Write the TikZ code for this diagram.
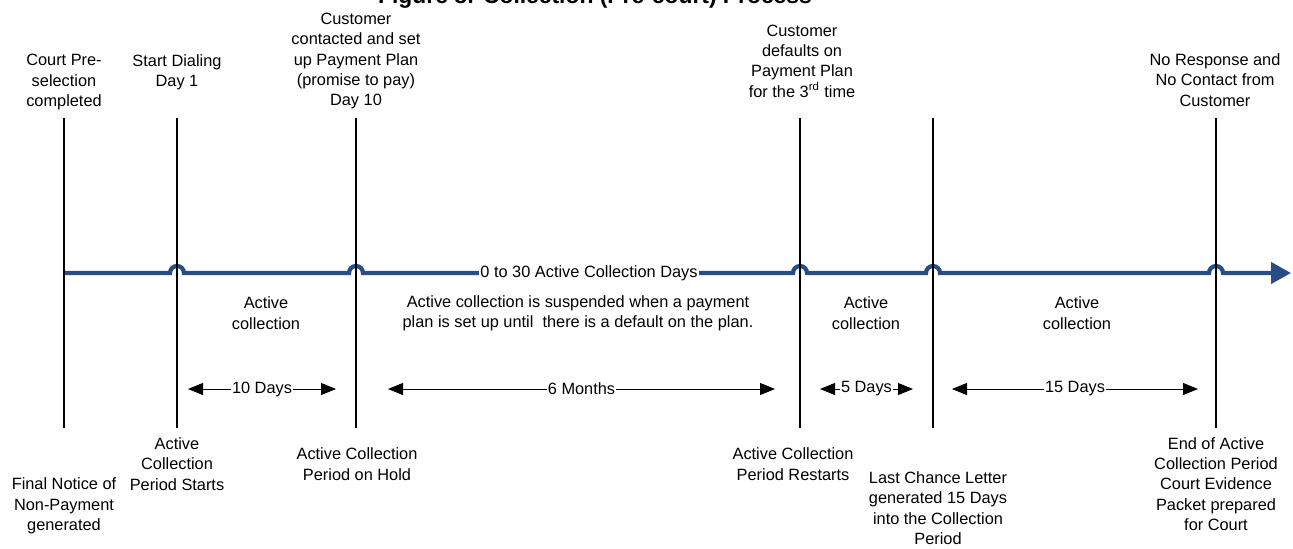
\documentclass[tikz,border=0pt]{standalone}
\usepackage{fontspec}
\setmainfont{Liberation Sans}
\usetikzlibrary{arrows.meta,calc,positioning}
\definecolor{timeline}{RGB}{41,76,133}

\begin{document}
\begin{tikzpicture}[
    every node/.style={font=\fontsize{9.3}{11.6}\selectfont, align=center, inner sep=0pt},
    marker/.style={black, line width=1.1pt},
    flow/.style={timeline, line width=2.4pt, -{Triangle[length=0.4cm,width=0.42cm]}},
    span/.style={black, line width=0.5pt, {Triangle[length=0.3cm,width=0.24cm]}-{Triangle[length=0.3cm,width=0.24cm]}},
    gap/.style={fill=white, inner sep=0.6pt}
]
    \useasboundingbox (0,0) rectangle (25.86,-10.96);

    % Title (cut at the top edge)
    \node[font=\fontsize{13}{15}\bfseries\selectfont, anchor=base] (title) at (11.9,-0.07) {Figure 8: Collection (Pre-court) Process};

    % Milestone lines
    \foreach \n/\x in {1/1.28, 2/3.54, 3/7.12, 4/16.0, 5/18.66, 6/24.32} {
        \coordinate (top\n) at (\x,-2.36);
        \coordinate (bot\n) at (\x,-8.56);
    }

    % Time line with hops over the milestones
    \coordinate (start) at (1.28,-5.46);
    \coordinate (end) at (25.82,-5.46);
    \draw[flow] (start)
        \foreach \n in {2,...,6} { -- ($(top\n|-start)+(-0.14,0)$) arc[start angle=180, end angle=0, radius=0.14cm] }
        -- (end);
    \node[gap] (days) at (11.78,-5.46) {0 to 30 Active Collection Days};

    \foreach \n in {1,...,6} {
        \draw[marker] (top\n) -- (bot\n);
    }

    % Events above the line
    \node (pre) at (1.28,-1.64) {Court Pre-\\selection\\completed};
    \node (dial) at (3.54,-1.44) {Start Dialing\\Day 1};
    \node (plan) at (7.12,-1.22) {Customer\\contacted and set\\up Payment Plan\\(promise to pay)\\Day 10};
    \node (default) at (16.04,-1.22) {Customer\\defaults on\\Payment Plan\\for the 3\textsuperscript{rd} time};
    \node (noresp) at (24.30,-1.60) {No Response and\\No Contact from\\Customer};

    % Events below the line
    \node (notice) at (1.28,-10.12) {Final Notice of\\Non-Payment\\generated};
    \node (starts) at (3.54,-9.28) {Active\\Collection\\Period Starts};
    \node (hold) at (7.14,-9.28) {Active Collection\\Period on Hold};
    \node (restart) at (15.86,-9.28) {Active Collection\\Period Restarts};
    \node (letter) at (18.76,-10.16) {Last Chance Letter\\generated 15 Days\\into the Collection\\Period};
    \node (finish) at (24.32,-9.68) {End of Active\\Collection Period\\Court Evidence\\Packet prepared\\for Court};

    % Periods
    \node (act1) at (5.32,-6.26) {Active\\collection};
    \node (susp) at (11.56,-6.26) {Active collection is suspended when a payment\\plan is set up until~ there is a default on the plan.};
    \node (act2) at (17.32,-6.26) {Active\\collection};
    \node (act3) at (21.54,-6.26) {Active\\collection};

    % Durations
    \foreach \n/\a/\b/\t in {1/3.76/6.72/10 Days, 2/7.76/15.5/6 Months, 3/16.4/18.26/5 Days, 4/19.04/23.96/15 Days} {
        \coordinate (from\n) at (\a,-7.78);
        \coordinate (to\n) at (\b,-7.78);
        \draw[span] (from\n) -- (to\n) node[midway, gap] {\t};
    }
\end{tikzpicture}
\end{document}
